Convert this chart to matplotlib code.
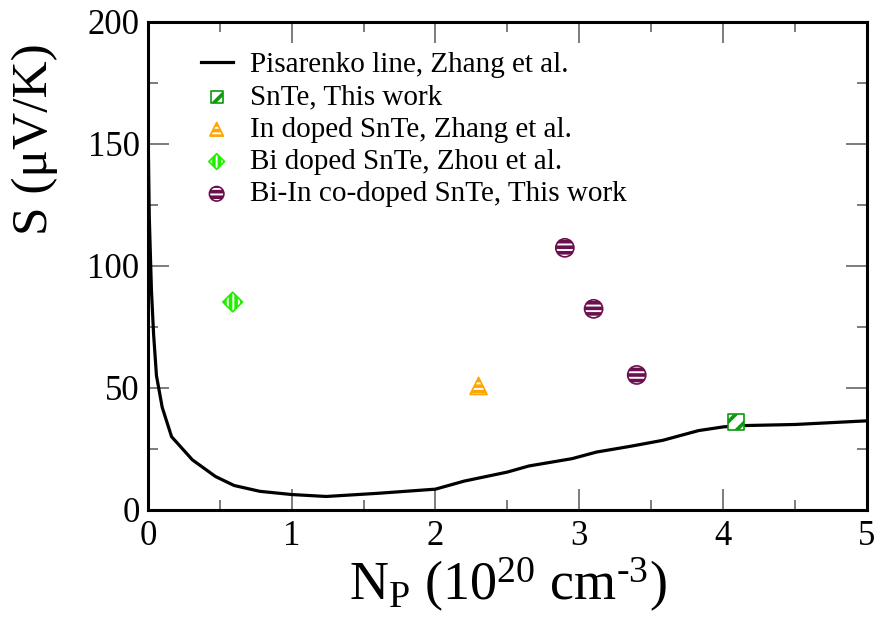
import matplotlib
matplotlib.use('Agg')
import matplotlib.pyplot as plt
import numpy as np

# Pisarenko line
np_line = [0.003, 0.01, 0.025, 0.04, 0.06, 0.1, 0.165, 0.31, 0.47, 0.6, 0.78, 1.0, 1.24,
           1.6, 2.0, 2.2, 2.5, 2.65, 2.95, 3.12, 3.35, 3.58, 3.83, 4.0, 4.1, 4.5, 5.0]
s_line = [150, 120, 90, 72, 55, 42, 30, 20.5, 13.7, 10, 7.6, 6.3, 5.5,
          6.8, 8.5, 11.8, 15.5, 18, 21, 23.7, 26, 28.5, 32.5, 34, 34.5, 35, 36.5]

# points
snte_x, snte_y = [4.09], [36]
in_x, in_y = [2.30], [50.8]
bi_x, bi_y = [0.59], [85.2]
biin_x = [2.90, 3.10, 3.40]
biin_y = [107.4, 82.4, 55.3]

plt.rcParams['font.family'] = 'Liberation Serif'
plt.rcParams['mathtext.fontset'] = 'custom'
plt.rcParams['mathtext.rm'] = 'Liberation Serif'
plt.rcParams['mathtext.it'] = 'Liberation Serif:italic'
plt.rcParams['hatch.linewidth'] = 2.6

fig = plt.figure(figsize=(8.8, 6.43), dpi=100)
ax = fig.add_axes([0.168, 0.207, 0.817, 0.759])

ax.plot(np_line, s_line, color='black', lw=2.3, label='Pisarenko line, Zhang et al.')
ax.scatter(snte_x, snte_y, s=120, marker='s', facecolor='white', edgecolor='#0a9a0a',
           hatch='//', linewidths=1.2, label='SnTe, This work', zorder=3)
ax.scatter(in_x, in_y, s=150, marker='^', facecolor='white', edgecolor='#ffa500',
           hatch='---', linewidths=1.2, label='In doped SnTe, Zhang et al.', zorder=3)
ax.scatter(bi_x, bi_y, s=100, marker='D', facecolor='white', edgecolor='#22ee00',
           hatch='|||', linewidths=1.2, label='Bi doped SnTe, Zhou et al.', zorder=3)
ax.scatter(biin_x, biin_y, s=170, marker='o', facecolor='white', edgecolor='#6b0f4f',
           hatch='---', linewidths=1.2, label='Bi-In co-doped SnTe, This work', zorder=3)

ax.set_xlim(0, 5)
ax.set_ylim(0, 200)
ax.set_xticks([0, 1, 2, 3, 4, 5])
ax.set_yticks([0, 50, 100, 150, 200])
ax.set_xticks(np.arange(0.5, 5, 1), minor=True)
ax.set_yticks(np.arange(25, 200, 50), minor=True)
ax.tick_params(which='both', direction='in', top=True, right=True, color='#666666',
               labelsize=25, width=1.2)
ax.tick_params(which='major', length=15)
ax.tick_params(which='minor', length=7)
ax.tick_params(axis='x', pad=7)
ax.tick_params(axis='y', pad=6)
for sp in ax.spines.values():
    sp.set_linewidth(2.2)

ax.set_xlabel(r'N$_\mathrm{P}$ (10$^{20}$ cm$^{\text{-3}}$)', fontsize=39, labelpad=2)
ax.set_ylabel('S (μV/K)', fontsize=37)
ax.yaxis.set_label_coords(-0.125, 0.76)

ax.legend(loc='upper left', bbox_to_anchor=(0.045, 0.98), frameon=False, fontsize=21,
          handlelength=1.1, handletextpad=0.6, labelspacing=0.2, borderaxespad=0.3,
          markerscale=0.8)

fig.savefig('out.png', dpi=100)
